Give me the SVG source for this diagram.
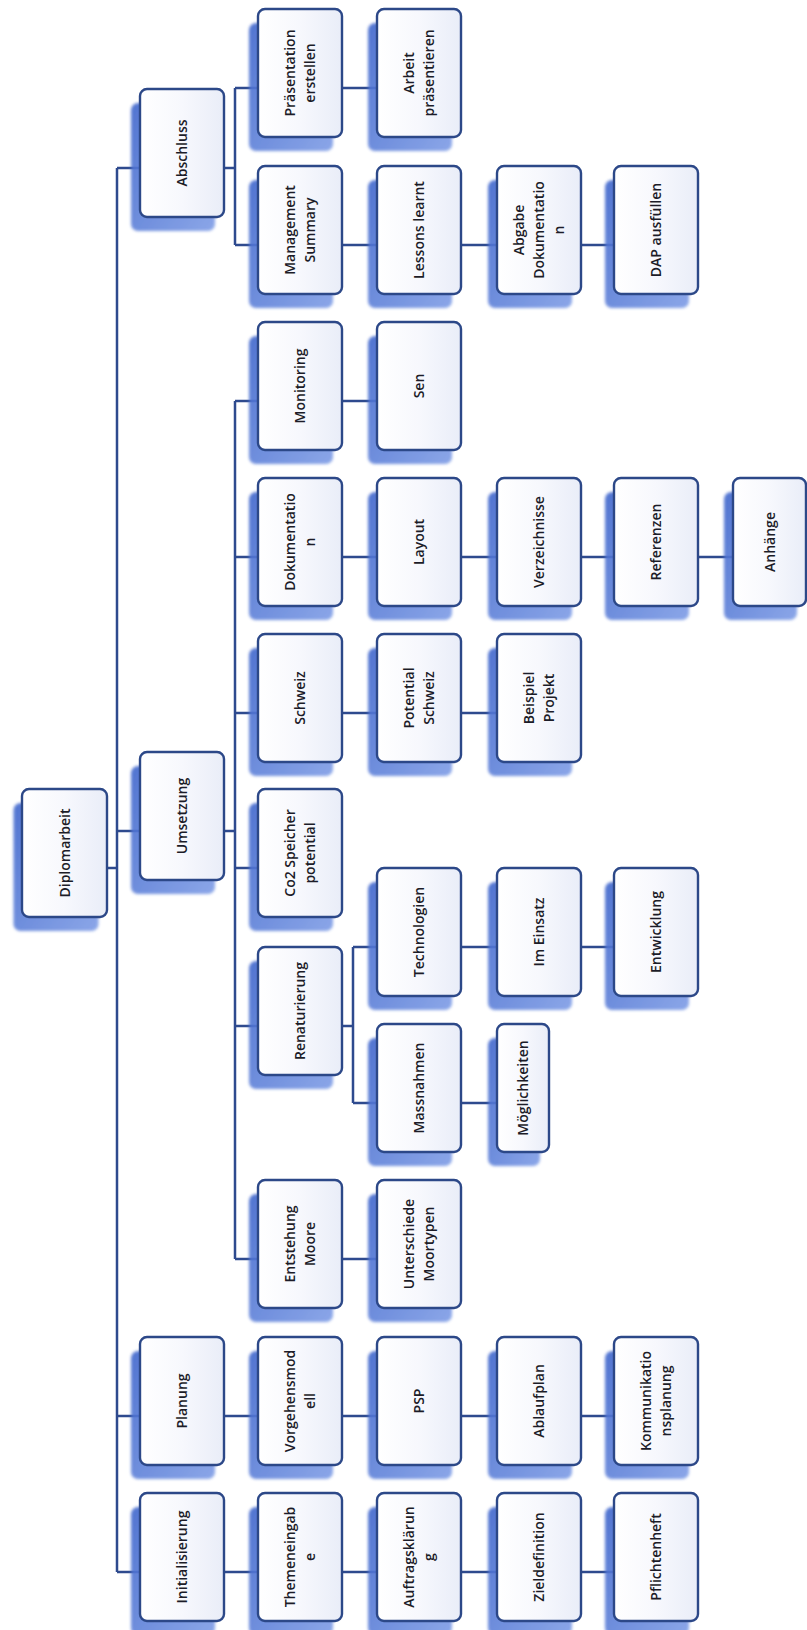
<svg xmlns="http://www.w3.org/2000/svg" width="807" height="1630" viewBox="0 0 807 1630">
<defs>
<linearGradient id="boxfill" x1="0" y1="0" x2="1" y2="0">
<stop offset="0" stop-color="#ffffff"/>
<stop offset="0.5" stop-color="#f7f8fd"/>
<stop offset="1" stop-color="#e9edf8"/>
</linearGradient>
<linearGradient id="shfill" x1="0" y1="0" x2="1" y2="1">
<stop offset="0" stop-color="#3f66cc"/>
<stop offset="1" stop-color="#7f9de6"/>
</linearGradient>
<filter id="blur" x="-20%" y="-20%" width="140%" height="140%">
<feGaussianBlur stdDeviation="1.8"/>
</filter>
</defs>
<style>
.sh{fill:url(#shfill);opacity:0.9;filter:url(#blur)}
.bx{fill:url(#boxfill);stroke:#2c4888;stroke-width:2.4}
.t{font-family:"Open Sans","Liberation Sans",sans-serif;font-size:14px;font-weight:600;fill:#1c1c28;text-anchor:middle}
.c{fill:none;stroke:#2e4a8e;stroke-width:2.5}
</style>
<rect width="807" height="1630" fill="#ffffff"/>

<g id="connectors" class="c">
<path d="M107,868 H117 M117,168 V1572 M117,168 H140 M117,831 H140 M117,1416 H140 M117,1572 H140"/>
<path d="M224,168 H235 M235,88 V245 M235,88 H258 M235,245 H258 M342,88 H377"/>
<path d="M342,245 H377 M461,245 H497 M581,245 H614"/>
<path d="M224,831 H235 M235,401 V1259 M235,401 H258 M235,557 H258 M235,713 H258 M235,868 H258 M235,1026 H258 M235,1259 H258"/>
<path d="M342,401 H377"/>
<path d="M342,557 H377 M461,557 H497 M581,557 H614 M698,557 H733"/>
<path d="M342,713 H377 M461,713 H497"/>
<path d="M342,1026 H353 M353,947 V1103 M353,947 H377 M353,1103 H377 M461,947 H497 M581,947 H614 M461,1103 H497"/>
<path d="M342,1259 H377"/>
<path d="M224,1416 H258 M342,1416 H377 M461,1416 H497 M581,1416 H614"/>
<path d="M224,1572 H258 M342,1572 H377 M461,1572 H497 M581,1572 H614"/>
</g>

<g id="diplomarbeit" transform="translate(64.5,853)"><rect class="sh" x="-51" y="-50" width="85" height="128" rx="7"/><rect class="bx" x="-42.5" y="-64" width="85" height="128" rx="7"/><text class="t" transform="rotate(-90)"><tspan x="0" y="5">Diplomarbeit</tspan></text></g>

<g id="abschluss" transform="translate(182,153)"><rect class="sh" x="-51" y="-50" width="84" height="128" rx="7"/><rect class="bx" x="-42" y="-64" width="84" height="128" rx="7"/><text class="t" transform="rotate(-90)"><tspan x="0" y="5">Abschluss</tspan></text></g>
<g id="umsetzung" transform="translate(182,816)"><rect class="sh" x="-51" y="-50" width="84" height="128" rx="7"/><rect class="bx" x="-42" y="-64" width="84" height="128" rx="7"/><text class="t" transform="rotate(-90)"><tspan x="0" y="5">Umsetzung</tspan></text></g>
<g id="planung" transform="translate(182,1401)"><rect class="sh" x="-51" y="-50" width="84" height="128" rx="7"/><rect class="bx" x="-42" y="-64" width="84" height="128" rx="7"/><text class="t" transform="rotate(-90)"><tspan x="0" y="5">Planung</tspan></text></g>
<g id="initialisierung" transform="translate(182,1557)"><rect class="sh" x="-51" y="-50" width="84" height="128" rx="7"/><rect class="bx" x="-42" y="-64" width="84" height="128" rx="7"/><text class="t" transform="rotate(-90)"><tspan x="0" y="5">Initialisierung</tspan></text></g>

<g id="praesentation" transform="translate(300,73)"><rect class="sh" x="-51" y="-50" width="84" height="128" rx="7"/><rect class="bx" x="-42" y="-64" width="84" height="128" rx="7"/><text class="t" transform="rotate(-90)"><tspan x="0" y="-5">Präsentation</tspan><tspan x="0" y="15">erstellen</tspan></text></g>
<g id="arbeit" transform="translate(419,73)"><rect class="sh" x="-51" y="-50" width="84" height="128" rx="7"/><rect class="bx" x="-42" y="-64" width="84" height="128" rx="7"/><text class="t" transform="rotate(-90)"><tspan x="0" y="-5">Arbeit</tspan><tspan x="0" y="15">präsentieren</tspan></text></g>

<g id="management" transform="translate(300,230)"><rect class="sh" x="-51" y="-50" width="84" height="128" rx="7"/><rect class="bx" x="-42" y="-64" width="84" height="128" rx="7"/><text class="t" transform="rotate(-90)"><tspan x="0" y="-5">Management</tspan><tspan x="0" y="15">Summary</tspan></text></g>
<g id="lessons" transform="translate(419,230)"><rect class="sh" x="-51" y="-50" width="84" height="128" rx="7"/><rect class="bx" x="-42" y="-64" width="84" height="128" rx="7"/><text class="t" transform="rotate(-90)"><tspan x="0" y="5">Lessons learnt</tspan></text></g>
<g id="abgabe" transform="translate(539,230)"><rect class="sh" x="-51" y="-50" width="84" height="128" rx="7"/><rect class="bx" x="-42" y="-64" width="84" height="128" rx="7"/><text class="t" transform="rotate(-90)"><tspan x="0" y="-15">Abgabe</tspan><tspan x="0" y="5">Dokumentatio</tspan><tspan x="0" y="25">n</tspan></text></g>
<g id="dap" transform="translate(656,230)"><rect class="sh" x="-51" y="-50" width="84" height="128" rx="7"/><rect class="bx" x="-42" y="-64" width="84" height="128" rx="7"/><text class="t" transform="rotate(-90)"><tspan x="0" y="5">DAP ausfüllen</tspan></text></g>

<g id="monitoring" transform="translate(300,386)"><rect class="sh" x="-51" y="-50" width="84" height="128" rx="7"/><rect class="bx" x="-42" y="-64" width="84" height="128" rx="7"/><text class="t" transform="rotate(-90)"><tspan x="0" y="5">Monitoring</tspan></text></g>
<g id="sen" transform="translate(419,386)"><rect class="sh" x="-51" y="-50" width="84" height="128" rx="7"/><rect class="bx" x="-42" y="-64" width="84" height="128" rx="7"/><text class="t" transform="rotate(-90)"><tspan x="0" y="5">Sen</tspan></text></g>

<g id="dokumentation" transform="translate(300,542)"><rect class="sh" x="-51" y="-50" width="84" height="128" rx="7"/><rect class="bx" x="-42" y="-64" width="84" height="128" rx="7"/><text class="t" transform="rotate(-90)"><tspan x="0" y="-5">Dokumentatio</tspan><tspan x="0" y="15">n</tspan></text></g>
<g id="layout" transform="translate(419,542)"><rect class="sh" x="-51" y="-50" width="84" height="128" rx="7"/><rect class="bx" x="-42" y="-64" width="84" height="128" rx="7"/><text class="t" transform="rotate(-90)"><tspan x="0" y="5">Layout</tspan></text></g>
<g id="verzeichnisse" transform="translate(539,542)"><rect class="sh" x="-51" y="-50" width="84" height="128" rx="7"/><rect class="bx" x="-42" y="-64" width="84" height="128" rx="7"/><text class="t" transform="rotate(-90)"><tspan x="0" y="5">Verzeichnisse</tspan></text></g>
<g id="referenzen" transform="translate(656,542)"><rect class="sh" x="-51" y="-50" width="84" height="128" rx="7"/><rect class="bx" x="-42" y="-64" width="84" height="128" rx="7"/><text class="t" transform="rotate(-90)"><tspan x="0" y="5">Referenzen</tspan></text></g>
<g id="anhaenge" transform="translate(769.5,542)"><rect class="sh" x="-45.5" y="-50" width="73" height="128" rx="7"/><rect class="bx" x="-36.5" y="-64" width="73" height="128" rx="7"/><text class="t" transform="rotate(-90)"><tspan x="0" y="5">Anhänge</tspan></text></g>

<g id="schweiz" transform="translate(300,698)"><rect class="sh" x="-51" y="-50" width="84" height="128" rx="7"/><rect class="bx" x="-42" y="-64" width="84" height="128" rx="7"/><text class="t" transform="rotate(-90)"><tspan x="0" y="5">Schweiz</tspan></text></g>
<g id="potential" transform="translate(419,698)"><rect class="sh" x="-51" y="-50" width="84" height="128" rx="7"/><rect class="bx" x="-42" y="-64" width="84" height="128" rx="7"/><text class="t" transform="rotate(-90)"><tspan x="0" y="-5">Potential</tspan><tspan x="0" y="15">Schweiz</tspan></text></g>
<g id="beispiel" transform="translate(539,698)"><rect class="sh" x="-51" y="-50" width="84" height="128" rx="7"/><rect class="bx" x="-42" y="-64" width="84" height="128" rx="7"/><text class="t" transform="rotate(-90)"><tspan x="0" y="-5">Beispiel</tspan><tspan x="0" y="15">Projekt</tspan></text></g>

<g id="co2" transform="translate(300,853)"><rect class="sh" x="-51" y="-50" width="84" height="128" rx="7"/><rect class="bx" x="-42" y="-64" width="84" height="128" rx="7"/><text class="t" transform="rotate(-90)"><tspan x="0" y="-5">Co2 Speicher</tspan><tspan x="0" y="15">potential</tspan></text></g>

<g id="technologien" transform="translate(419,932)"><rect class="sh" x="-51" y="-50" width="84" height="128" rx="7"/><rect class="bx" x="-42" y="-64" width="84" height="128" rx="7"/><text class="t" transform="rotate(-90)"><tspan x="0" y="5">Technologien</tspan></text></g>
<g id="imeinsatz" transform="translate(539,932)"><rect class="sh" x="-51" y="-50" width="84" height="128" rx="7"/><rect class="bx" x="-42" y="-64" width="84" height="128" rx="7"/><text class="t" transform="rotate(-90)"><tspan x="0" y="5">Im Einsatz</tspan></text></g>
<g id="entwicklung" transform="translate(656,932)"><rect class="sh" x="-51" y="-50" width="84" height="128" rx="7"/><rect class="bx" x="-42" y="-64" width="84" height="128" rx="7"/><text class="t" transform="rotate(-90)"><tspan x="0" y="5">Entwicklung</tspan></text></g>

<g id="renaturierung" transform="translate(300,1011)"><rect class="sh" x="-51" y="-50" width="84" height="128" rx="7"/><rect class="bx" x="-42" y="-64" width="84" height="128" rx="7"/><text class="t" transform="rotate(-90)"><tspan x="0" y="5">Renaturierung</tspan></text></g>

<g id="massnahmen" transform="translate(419,1088)"><rect class="sh" x="-51" y="-50" width="84" height="128" rx="7"/><rect class="bx" x="-42" y="-64" width="84" height="128" rx="7"/><text class="t" transform="rotate(-90)"><tspan x="0" y="5">Massnahmen</tspan></text></g>
<g id="moeglichkeiten" transform="translate(523,1088)"><rect class="sh" x="-35" y="-50" width="52" height="128" rx="7"/><rect class="bx" x="-26" y="-64" width="52" height="128" rx="7"/><text class="t" transform="rotate(-90)"><tspan x="0" y="5">Möglichkeiten</tspan></text></g>

<g id="entstehung" transform="translate(300,1244)"><rect class="sh" x="-51" y="-50" width="84" height="128" rx="7"/><rect class="bx" x="-42" y="-64" width="84" height="128" rx="7"/><text class="t" transform="rotate(-90)"><tspan x="0" y="-5">Entstehung</tspan><tspan x="0" y="15">Moore</tspan></text></g>
<g id="unterschiede" transform="translate(419,1244)"><rect class="sh" x="-51" y="-50" width="84" height="128" rx="7"/><rect class="bx" x="-42" y="-64" width="84" height="128" rx="7"/><text class="t" transform="rotate(-90)"><tspan x="0" y="-5">Unterschiede</tspan><tspan x="0" y="15">Moortypen</tspan></text></g>

<g id="vorgehensmodell" transform="translate(300,1401)"><rect class="sh" x="-51" y="-50" width="84" height="128" rx="7"/><rect class="bx" x="-42" y="-64" width="84" height="128" rx="7"/><text class="t" transform="rotate(-90)"><tspan x="0" y="-5">Vorgehensmod</tspan><tspan x="0" y="15">ell</tspan></text></g>
<g id="psp" transform="translate(419,1401)"><rect class="sh" x="-51" y="-50" width="84" height="128" rx="7"/><rect class="bx" x="-42" y="-64" width="84" height="128" rx="7"/><text class="t" transform="rotate(-90)"><tspan x="0" y="5">PSP</tspan></text></g>
<g id="ablaufplan" transform="translate(539,1401)"><rect class="sh" x="-51" y="-50" width="84" height="128" rx="7"/><rect class="bx" x="-42" y="-64" width="84" height="128" rx="7"/><text class="t" transform="rotate(-90)"><tspan x="0" y="5">Ablaufplan</tspan></text></g>
<g id="kommunikation" transform="translate(656,1401)"><rect class="sh" x="-51" y="-50" width="84" height="128" rx="7"/><rect class="bx" x="-42" y="-64" width="84" height="128" rx="7"/><text class="t" transform="rotate(-90)"><tspan x="0" y="-5">Kommunikatio</tspan><tspan x="0" y="15">nsplanung</tspan></text></g>

<g id="themeneingabe" transform="translate(300,1557)"><rect class="sh" x="-51" y="-50" width="84" height="128" rx="7"/><rect class="bx" x="-42" y="-64" width="84" height="128" rx="7"/><text class="t" transform="rotate(-90)"><tspan x="0" y="-5">Themeneingab</tspan><tspan x="0" y="15">e</tspan></text></g>
<g id="auftrag" transform="translate(419,1557)"><rect class="sh" x="-51" y="-50" width="84" height="128" rx="7"/><rect class="bx" x="-42" y="-64" width="84" height="128" rx="7"/><text class="t" transform="rotate(-90)"><tspan x="0" y="-5">Auftragsklärun</tspan><tspan x="0" y="15">g</tspan></text></g>
<g id="ziel" transform="translate(539,1557)"><rect class="sh" x="-51" y="-50" width="84" height="128" rx="7"/><rect class="bx" x="-42" y="-64" width="84" height="128" rx="7"/><text class="t" transform="rotate(-90)"><tspan x="0" y="5">Zieldefinition</tspan></text></g>
<g id="pflichtenheft" transform="translate(656,1557)"><rect class="sh" x="-51" y="-50" width="84" height="128" rx="7"/><rect class="bx" x="-42" y="-64" width="84" height="128" rx="7"/><text class="t" transform="rotate(-90)"><tspan x="0" y="5">Pflichtenheft</tspan></text></g>
</svg>
